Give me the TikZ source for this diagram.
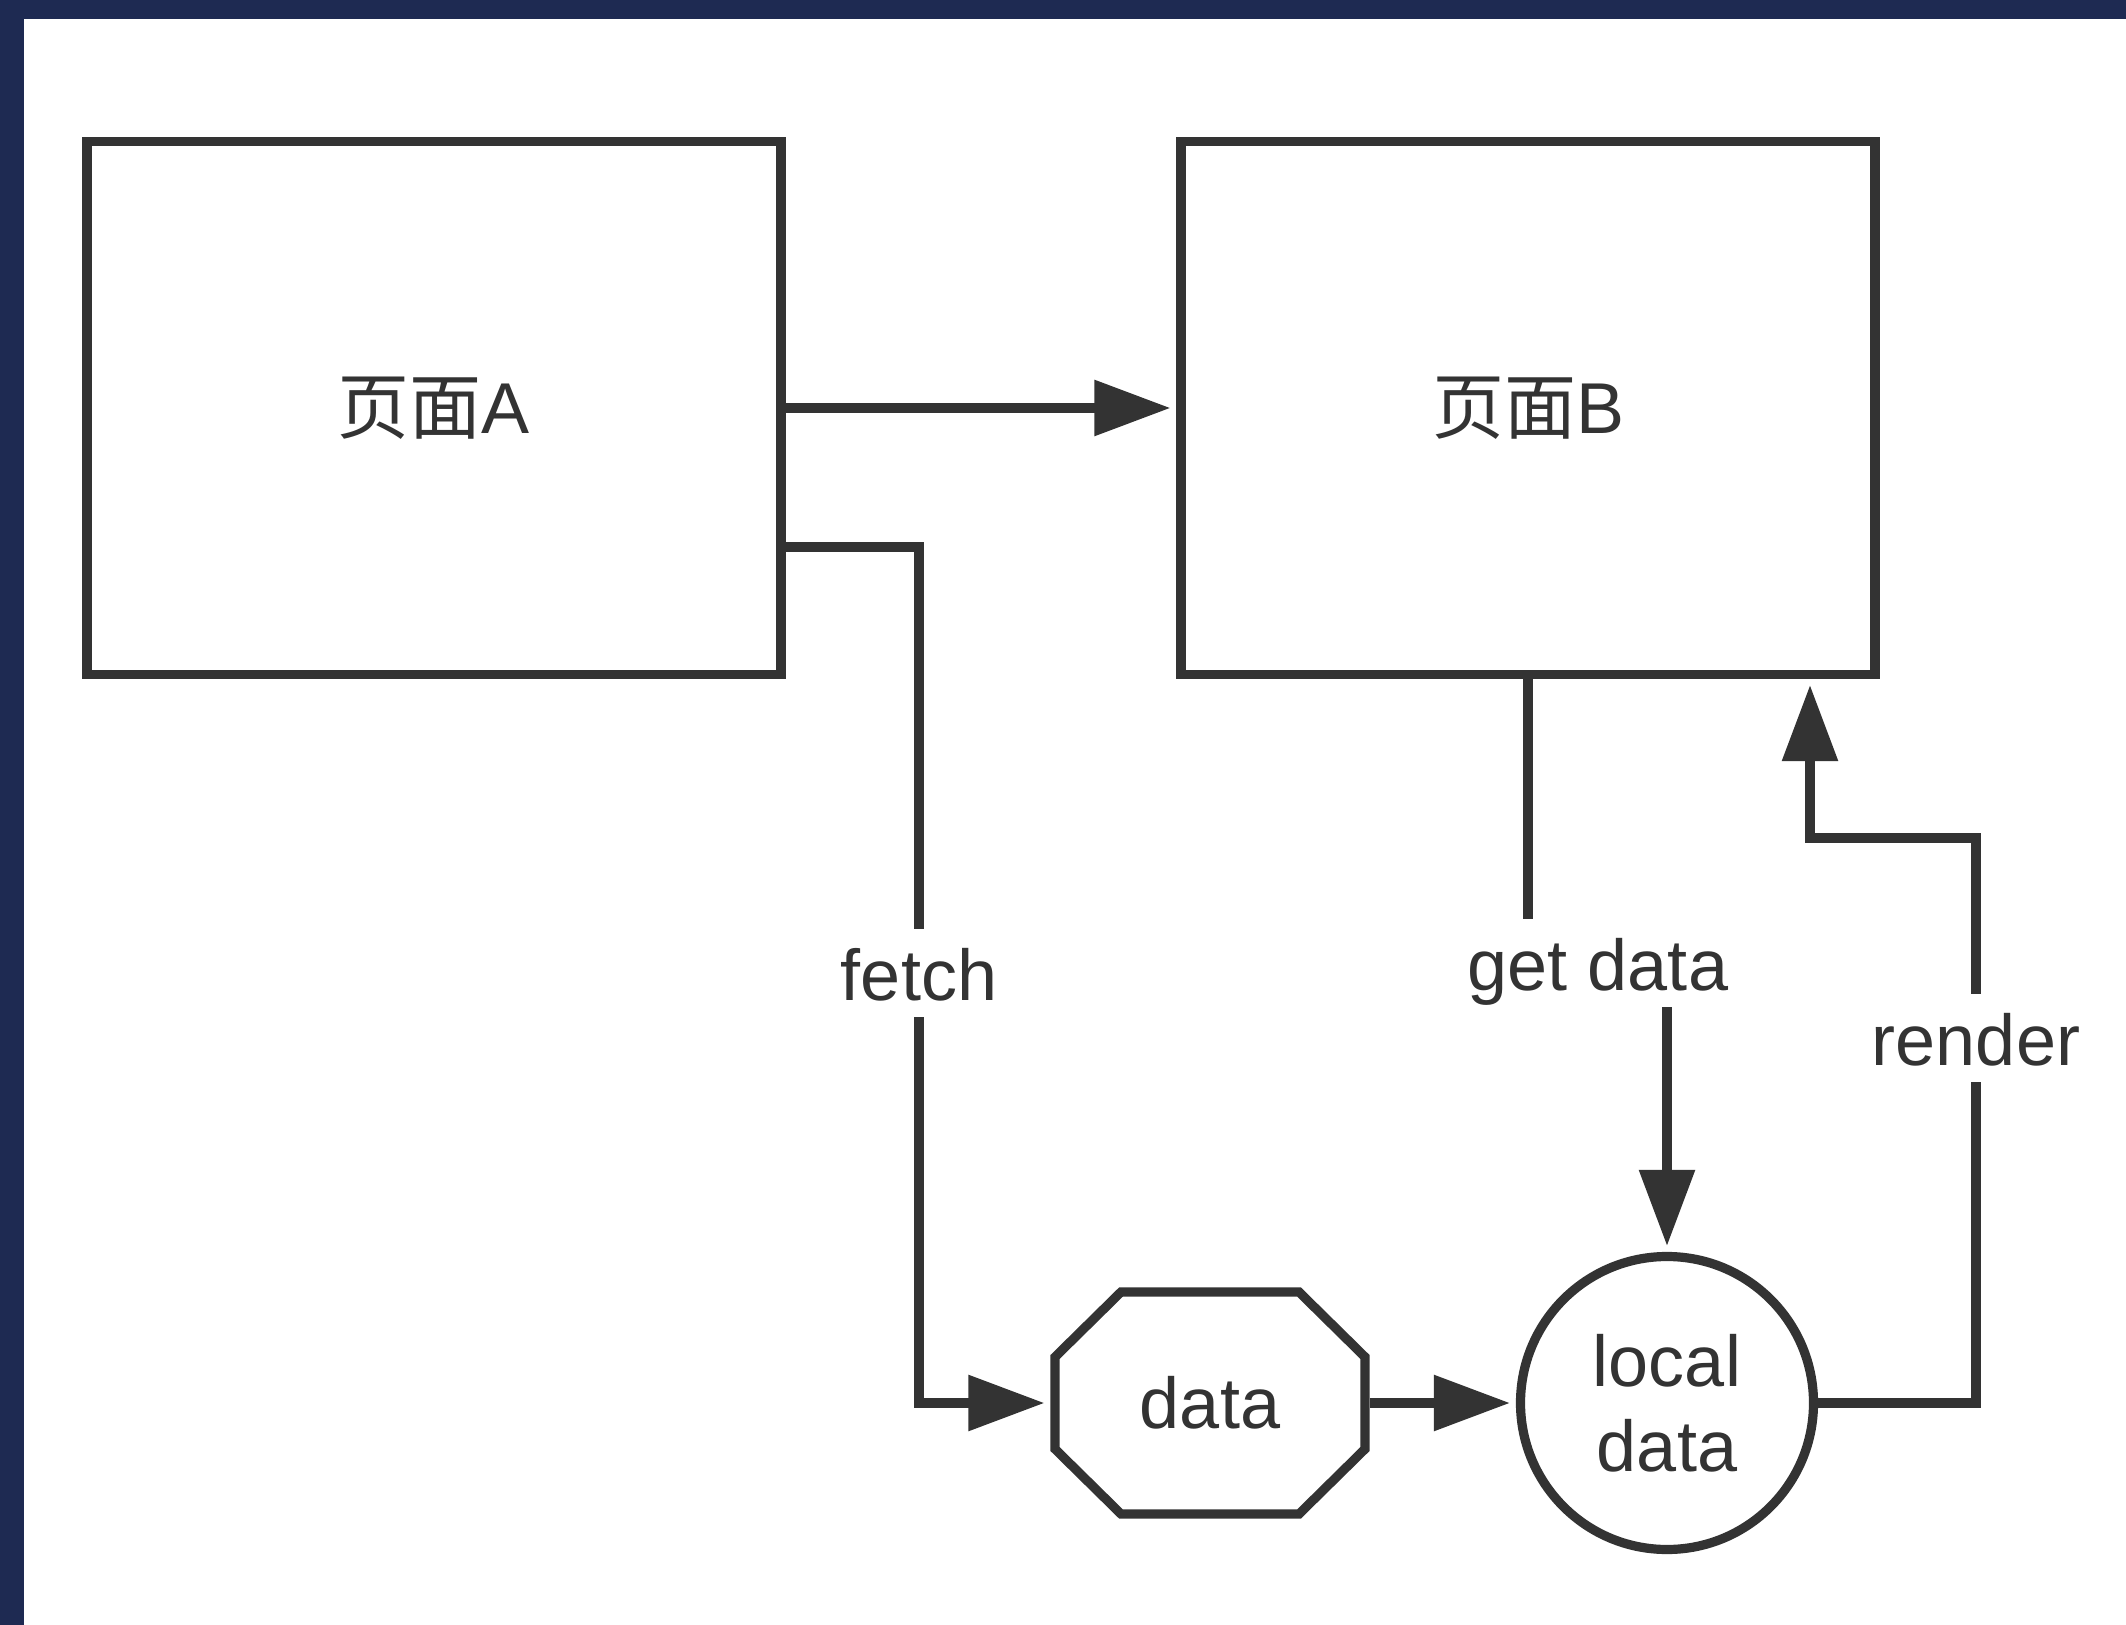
\documentclass[tikz,border=0pt]{standalone}
\usepackage{fontspec}
\setmainfont{Liberation Sans}
\newfontfamily\cjk{Noto Sans CJK SC}
\usetikzlibrary{arrows.meta}
\definecolor{frameblue}{HTML}{1E2A52}
\definecolor{ink}{HTML}{333333}
\begin{document}
\begin{tikzpicture}[x=0.5pt,y=-0.5pt,
  line width=4.6pt, draw=ink,
  every node/.style={font=\fontsize{36}{42.5}\selectfont, text=ink},
  page/.style={draw=ink, minimum width=347pt, minimum height=266.5pt, inner sep=0pt},
  octbox/.style={draw=none, minimum width=155pt, minimum height=111pt, inner sep=0pt},
  store/.style={circle, draw=ink, minimum size=146.5pt, inner sep=0pt, align=center},
  lab/.style={fill=white, text height=27pt, text depth=0pt, inner xsep=4pt, inner ysep=8.5pt},
  arr/.style={draw=ink, -{Triangle[length=38pt,width=27pt]}, shorten >=3pt},
  conn/.style={draw=ink}]
\useasboundingbox (0,0) rectangle (2126,1625);
\fill[frameblue] (0,0) rectangle (2126,1625);
\fill[white] (24,19) rectangle (2126,1625);

\node[page] (A) at (434,408) {{\cjk 页面}A};
\node[page] (B) at (1528,408) {{\cjk 页面}B};
\node[octbox] (data) at (1210,1403) {data};
\draw[draw=ink, shift={(data.center)}] (-155,-46) -- (-89,-111) -- (89,-111) -- (155,-46)
  -- (155,46) -- (89,111) -- (-89,111) -- (-155,46) -- cycle;
\node[store] (loc) at (1667,1403) {local\\data};

\coordinate (fc) at (919,547);
\coordinate (gd) at (1598,963);
\coordinate (rc1) at (1976,838);
\coordinate (rc2) at (1810,838);

\draw[arr] (A.east) -- (B.west);
\draw[arr] ([yshift=-69.5pt]A.east) -- (fc) |- (data.west);
\draw[arr] (data.east) -- (loc.west);
\draw[arr] (B.south) -- (B.south |- gd) -- (loc.north |- gd) -- (loc.north);
\draw[arr] (loc.east) -| (rc1) -- (rc2) -- (rc2 |- B.south);

\node[lab] (lfetch) at (919,973) {fetch};
\node[lab] (lget) at (gd) {get data};
\node[lab] (lrender) at (1976,1038) {render};
\end{tikzpicture}
\end{document}
